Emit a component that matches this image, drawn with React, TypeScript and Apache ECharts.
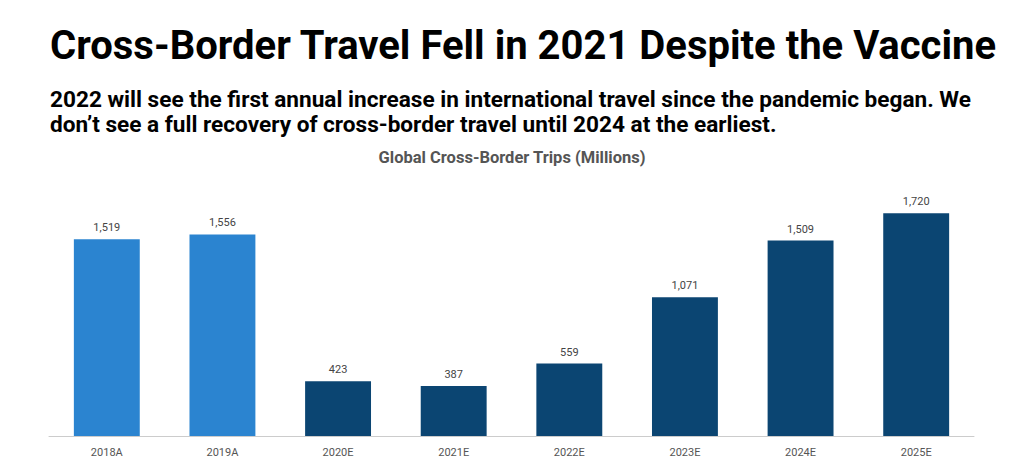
import React, { useEffect, useRef } from "react";
import * as echarts from "echarts";

const categories = ["2018A", "2019A", "2020E", "2021E", "2022E", "2023E", "2024E", "2025E"];
const trips = [1519, 1556, 423, 387, 559, 1071, 1509, 1720];
const actualColor = "#2B84D0";
const estimateColor = "#0B4572";

export default function App() {
  const ref = useRef<HTMLDivElement>(null);
  useEffect(() => {
    document.body.style.margin = "0";
    if (!ref.current) return;
    const chart = echarts.init(ref.current, null, { renderer: "svg" });
    chart.setOption({
      animation: false,
      backgroundColor: "#ffffff",
      title: [
        {
          text: "Cross-Border Travel Fell in 2021 Despite the Vaccine",
          left: 50,
          top: 25,
          padding: 0,
          textStyle: { fontFamily: "Roboto", fontWeight: "bold", fontSize: 40, color: "#000" },
        },
        {
          text: "2022 will see the first annual increase in international travel since the pandemic began. We\ndon\u2019t see a full recovery of cross-border travel until 2024 at the earliest.",
          left: 50,
          top: 87,
          padding: 0,
          textStyle: { fontFamily: "Roboto", fontWeight: "bold", fontSize: 22.6, lineHeight: 25, color: "#000" },
        },
        {
          text: "Global Cross-Border Trips (Millions)",
          left: "center",
          top: 144,
          textStyle: { fontFamily: "Roboto", fontWeight: "bold", fontSize: 16.5, color: "#555" },
        },
      ],
      grid: { left: 49, right: 50, top: 177, bottom: 35, containLabel: false },
      xAxis: {
        type: "category",
        data: categories,
        axisLine: { lineStyle: { color: "#ccc" } },
        axisTick: { show: false },
        axisLabel: { color: "#555", fontSize: 11, fontFamily: "Roboto", margin: 11 },
      },
      yAxis: { type: "value", min: 0, max: 2000, show: false, splitLine: { show: false } },
      series: [
        {
          type: "bar",
          barWidth: "57%",
          data: trips.map((v, i) => ({
            value: v,
            itemStyle: { color: categories[i].endsWith("A") ? actualColor : estimateColor },
          })),
          label: {
            show: true,
            position: "top",
            distance: 6,
            color: "#444",
            fontSize: 11,
            fontFamily: "Roboto",
            formatter: (p: any) => p.value.toLocaleString("en-US"),
          },
        },
      ],
    });
    return () => chart.dispose();
  }, []);
  return <div ref={ref} style={{ width: 1024, height: 471 }} />;
}
